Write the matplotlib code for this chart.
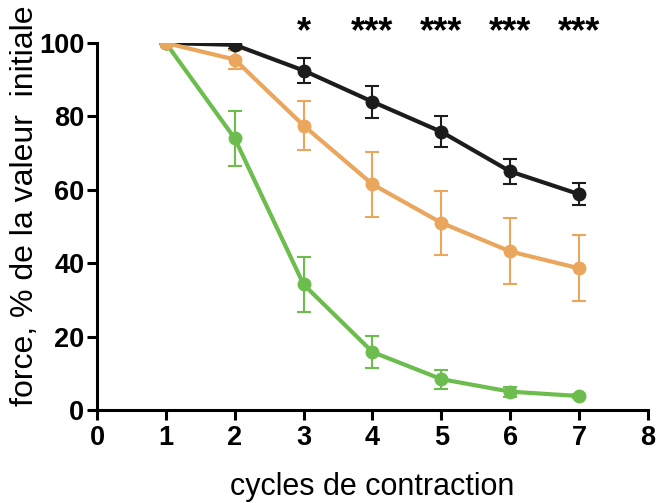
import matplotlib
matplotlib.use("Agg")
import matplotlib.pyplot as plt

plt.rcParams['font.family'] = ['Liberation Sans', 'DejaVu Sans']

cycles = [1, 2, 3, 4, 5, 6, 7]
black_mean = [100, 99.5, 92.5, 84, 75.8, 65, 58.8]
black_err = [0, 1.0, 3.5, 4.3, 4.2, 3.3, 3.0]
orange_mean = [100, 95.5, 77.5, 61.5, 51, 43.2, 38.6]
orange_err = [0, 2.5, 6.7, 8.8, 8.7, 9.0, 9.0]
green_mean = [100, 74, 34.2, 15.8, 8.4, 5.0, 3.8]
green_err = [0, 7.5, 7.5, 4.3, 2.6, 1.4, 0.5]
stars_x = [3, 4, 5, 6, 7]
stars = ['*', '***', '***', '***', '***']

fig = plt.figure(figsize=(6.58, 5.03), dpi=100)
ax = fig.add_axes([0.1474, 0.1849, 0.8374, 0.7296])

series = [
    (black_mean, black_err, '#1c1c1c'),
    (green_mean, green_err, '#6cbd4e'),
    (orange_mean, orange_err, '#eaa65c'),
]
for mean, err, col in series:
    ax.errorbar(cycles, mean, yerr=err, color=col, lw=3, marker='o',
                markersize=9, ecolor=col, elinewidth=1.5, capsize=5,
                capthick=1.5)

for x, s in zip(stars_x, stars):
    ax.text(x, 102.8, s, ha='center', va='center', fontsize=26,
            fontweight='bold', clip_on=False)

ax.set_xlim(0, 8)
ax.set_ylim(0, 100)
ax.set_xticks(range(0, 9))
ax.set_yticks(range(0, 101, 20))
ax.spines['top'].set_visible(False)
ax.spines['right'].set_visible(False)
for sp in ['left', 'bottom']:
    ax.spines[sp].set_linewidth(2.2)
ax.tick_params(width=2.2, length=7, labelsize=19.5, pad=2)
ax.tick_params(axis='x', pad=4)
for lab in ax.get_xticklabels() + ax.get_yticklabels():
    lab.set_fontweight('bold')

ax.set_xlabel('cycles de contraction', fontsize=22)
ax.xaxis.set_label_coords(0.5, -0.168)
ax.set_ylabel('force, % de la valeur  initiale', fontsize=23)
ax.yaxis.set_label_coords(-0.103, 0.556)

fig.savefig('out.png', dpi=100)
